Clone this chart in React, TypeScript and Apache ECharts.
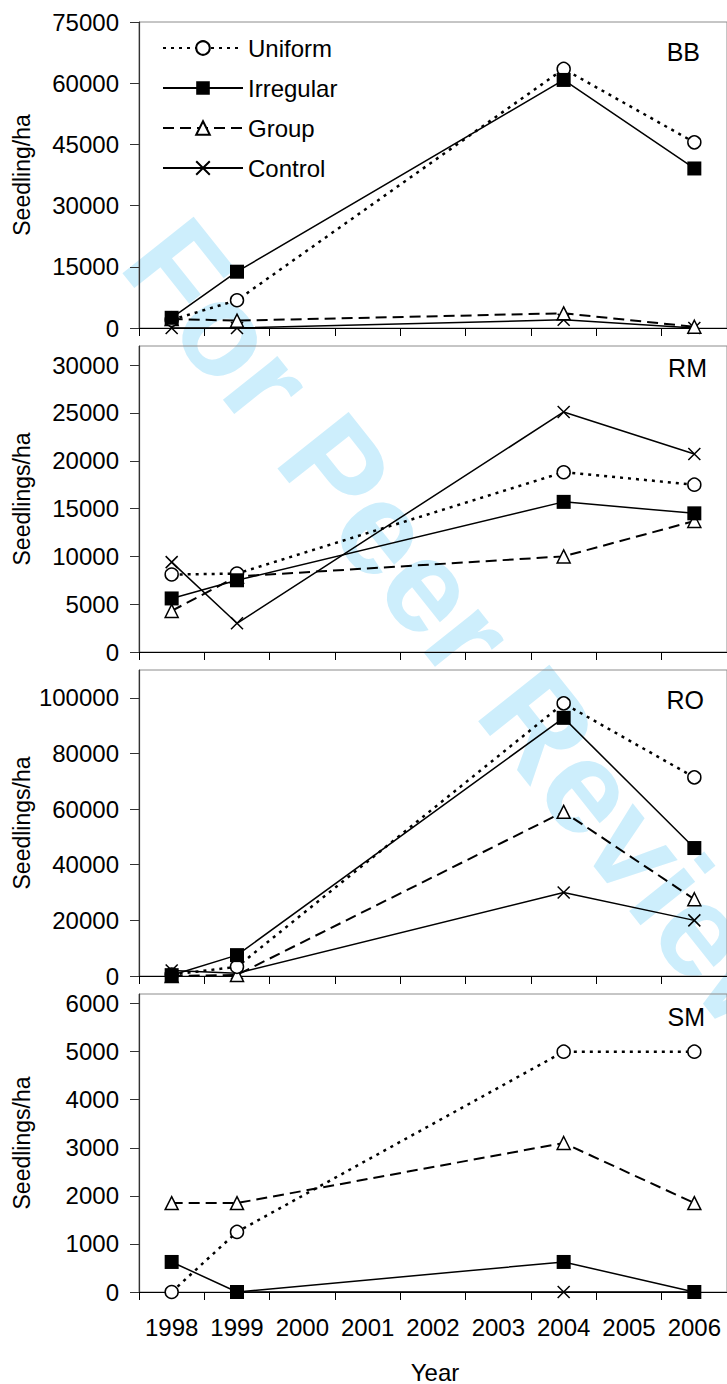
import React, { useEffect, useRef } from "react";
import * as echarts from "echarts";

const years = ["1998", "1999", "2000", "2001", "2002", "2003", "2004", "2005", "2006"];
const sampledYears = ["1998", "1999", "2004", "2006"];
const legendOrder = ["Uniform", "Irregular", "Group", "Control"];
const panelNames = ["BB", "RM", "RO", "SM"];
const yAxisTitles = ["Seedling/ha", "Seedlings/ha", "Seedlings/ha", "Seedlings/ha"];

// BB
const bbUniform = [2000, 6800, 63500, 45500];
const bbIrregular = [2500, 13800, 60800, 39100];
const bbGroup = [2200, 1800, 3600, 300];
const bbControl = [0, 0, 2000, 0];
// RM
const rmUniform = [8100, 8200, 18800, 17500];
const rmIrregular = [5600, 7500, 15700, 14500];
const rmGroup = [4300, 7900, 10000, 13700];
const rmControl = [9400, 3000, 25100, 20700];
// RO
const roUniform = [500, 3300, 98000, 71400];
const roIrregular = [300, 7500, 92800, 46000];
const roGroup = [0, 400, 59000, 27600];
const roControl = [2000, 1000, 30000, 20000];
// SM
const smUniform = [0, 1250, 5000, 5000];
const smIrregular = [625, 0, 625, 0];
const smGroup = [1850, 1850, 3100, 1850];
const smControl = [null, 0, 0, 0];

// tick labels
const bbTicks = [0, 15000, 30000, 45000, 60000, 75000];
const rmTicks = [0, 5000, 10000, 15000, 20000, 25000, 30000];
const roTicks = [0, 20000, 40000, 60000, 80000, 100000];
const smTicks = [0, 1000, 2000, 3000, 4000, 5000, 6000];

const axisMax = [75000, 32000, 110000, 6200];
const axisStep = [15000, 5000, 20000, 1000];

const FONT = "Liberation Sans, Arial, Helvetica, sans-serif";

function toFull(vals: (number | null)[]) {
  return years.map((y) => {
    const i = sampledYears.indexOf(y);
    return i >= 0 ? vals[i] : null;
  });
}

const panelData = [
  { Uniform: bbUniform, Irregular: bbIrregular, Group: bbGroup, Control: bbControl },
  { Uniform: rmUniform, Irregular: rmIrregular, Group: rmGroup, Control: rmControl },
  { Uniform: roUniform, Irregular: roIrregular, Group: roGroup, Control: roControl },
  { Uniform: smUniform, Irregular: smIrregular, Group: smGroup, Control: smControl },
];
const panelTicks = [bbTicks, rmTicks, roTicks, smTicks];

const gridTops = [22, 346, 670, 994];
const gridHeights = [306, 306, 306, 298];
const GRID_LEFT = 139;
const GRID_WIDTH = 593;

const styles: Record<string, any> = {
  Uniform: {
    symbol: "circle",
    symbolSize: 13,
    itemStyle: { color: "#fff", borderColor: "#000", borderWidth: 1.5 },
    lineStyle: { color: "#000", width: 2.5, type: [3, 5] },
  },
  Irregular: {
    symbol: "rect",
    symbolSize: 14,
    itemStyle: { color: "#000", borderColor: "#000", borderWidth: 0 },
    lineStyle: { color: "#000", width: 1.5, type: "solid" },
  },
  Group: {
    symbol: "triangle",
    symbolSize: 13,
    itemStyle: { color: "#fff", borderColor: "#000", borderWidth: 1.5 },
    lineStyle: { color: "#000", width: 2, type: [11, 6] },
  },
  Control: {
    symbol: "path://M0,0L10,10M10,0L0,10",
    symbolSize: 12,
    itemStyle: { color: "#000", borderColor: "#000", borderWidth: 1.5 },
    lineStyle: { color: "#000", width: 1.5, type: "solid" },
  },
};

const drawOrder = ["Control", "Group", "Uniform", "Irregular"];

function buildOption() {
  const grid = gridTops.map((top, i) => ({
    left: GRID_LEFT,
    top,
    width: GRID_WIDTH,
    height: gridHeights[i],
    show: true,
    borderColor: "#8c8c8c",
    borderWidth: 1,
    backgroundColor: "transparent",
  }));

  const xAxis = gridTops.map((_, i) => ({
    type: "category",
    gridIndex: i,
    data: years,
    boundaryGap: true,
    axisLine: { show: true, lineStyle: { color: "#000", width: 1.2 } },
    axisTick: { show: true, inside: false, length: 8, interval: 0, lineStyle: { color: "#000", width: 1 } },
    axisLabel: {
      show: i === 3,
      interval: 0,
      margin: 23,
      fontSize: 24,
      fontFamily: FONT,
      color: "#000",
    },
    splitLine: { show: false },
  }));

  const yAxis = gridTops.map((_, i) => ({
    type: "value",
    gridIndex: i,
    min: 0,
    max: axisMax[i],
    interval: axisStep[i],
    axisLine: { show: true, lineStyle: { color: "#333", width: 1.2 } },
    axisTick: {
      show: true,
      inside: false,
      length: 9,
      lineStyle: { color: "#333", width: 1 },
      customValues: panelTicks[i],
    },
    axisLabel: {
      margin: 20,
      fontSize: 24,
      fontFamily: FONT,
      color: "#000",
      customValues: panelTicks[i],
      formatter: (v: number) => String(v),
    },
    splitLine: { show: false },
  }));

  const series: any[] = [];
  panelData.forEach((pd: any, i) => {
    drawOrder.forEach((name) => {
      const st = styles[name];
      series.push({
        type: "line",
        name,
        xAxisIndex: i,
        yAxisIndex: i,
        data: toFull(pd[name]),
        connectNulls: true,
        clip: false,
        symbol: st.symbol,
        symbolSize: st.symbolSize,
        itemStyle: st.itemStyle,
        lineStyle: st.lineStyle,
        showAllSymbol: true,
        emphasis: { disabled: true },
      });
    });
  });

  const graphic: any[] = [
    {
      type: "text",
      x: 472,
      y: 640,
      rotation: -0.9,
      z: -10,
      silent: true,
      style: {
        text: "For Peer Review",
        fontSize: 132,
        fontWeight: "bold",
        fontFamily: FONT,
        fill: "#cdeefc",
        align: "center",
        verticalAlign: "middle",
      },
    },
  ];

  const titlePos = [
    [700, 52],
    [707, 368],
    [704, 700],
    [705, 1017],
  ];
  panelNames.forEach((n, i) => {
    graphic.push({
      type: "text",
      x: titlePos[i][0],
      y: titlePos[i][1],
      style: {
        text: n,
        fontSize: 25,
        fontFamily: FONT,
        fill: "#000",
        align: "right",
        verticalAlign: "middle",
      },
    });
  });
  yAxisTitles.forEach((t, i) => {
    graphic.push({
      type: "text",
      x: 22,
      y: gridTops[i] + gridHeights[i] / 2,
      rotation: Math.PI / 2,
      style: {
        text: t,
        fontSize: 23,
        fontFamily: FONT,
        fill: "#000",
        align: "center",
        verticalAlign: "middle",
      },
    });
  });
  graphic.push({
    type: "text",
    x: 435,
    y: 1372,
    style: {
      text: "Year",
      fontSize: 24,
      fontFamily: FONT,
      fill: "#000",
      align: "center",
      verticalAlign: "middle",
    },
  });

  return {
    animation: false,
    backgroundColor: "#fff",
    grid,
    xAxis,
    yAxis,
    series,
    graphic,
    legend: {
      show: true,
      data: legendOrder,
      orient: "vertical",
      left: 162,
      top: 36,
      padding: 0,
      itemWidth: 80,
      itemHeight: 17,
      itemGap: 16,
      selectedMode: false,
      textStyle: { fontSize: 24, fontFamily: FONT, color: "#000" },
    },
    tooltip: { show: false },
  };
}

export default function App() {
  const ref = useRef<HTMLDivElement>(null);
  useEffect(() => {
    if (!ref.current) return;
    const chart = echarts.init(ref.current, undefined, { renderer: "svg" });
    chart.setOption(buildOption() as any);
    return () => chart.dispose();
  }, []);
  return (
    <div
      ref={ref}
      style={{ position: "absolute", left: 0, top: 0, width: 727, height: 1384, background: "#fff" }}
    />
  );
}
